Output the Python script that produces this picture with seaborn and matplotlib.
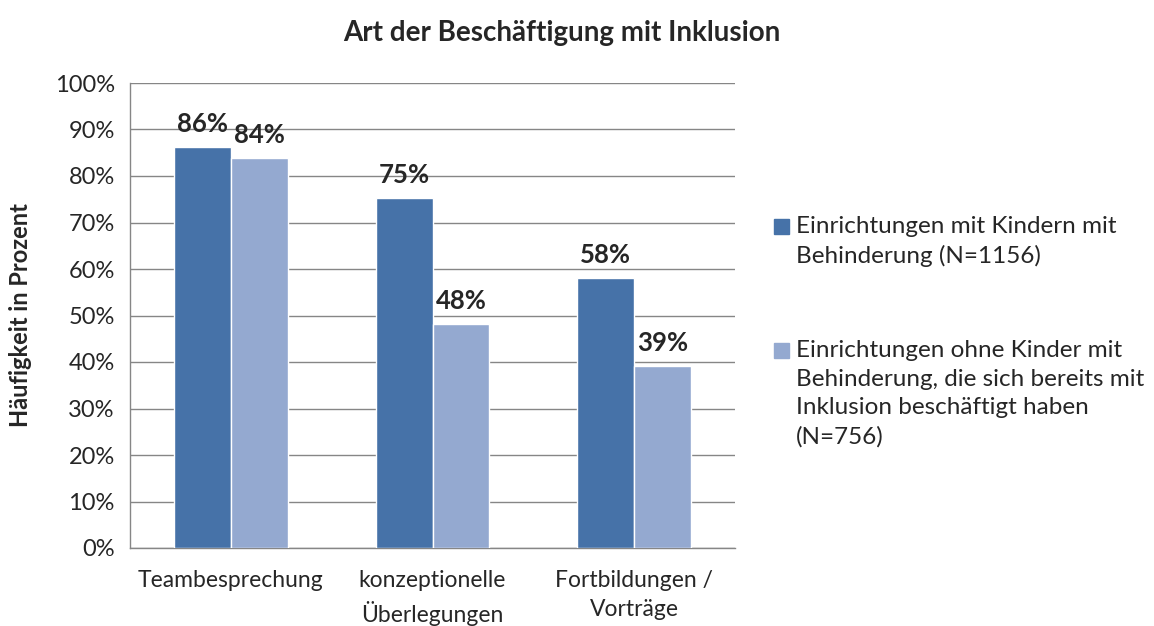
import pandas as pd
import seaborn as sns
import matplotlib.pyplot as plt
from matplotlib.patches import Rectangle
from matplotlib.ticker import PercentFormatter

categories = ["Teambesprechung", "konzeptionelle\nÜberlegungen", "Fortbildungen /\nVorträge"]
series_names = ["Einrichtungen mit Kindern mit\nBehinderung (N=1156)",
                "Einrichtungen ohne Kinder mit\nBehinderung, die sich bereits mit\nInklusion beschäftigt haben\n(N=756)"]
mit_kindern = [86.3, 75.3, 58.0]
ohne_kinder = [83.9, 48.2, 39.2]
colors = ["#4672A8", "#94A9D0"]

sns.set_style("white")
plt.rcParams['font.family'] = ['Lato', 'DejaVu Sans']

df = pd.DataFrame({
    "Kategorie": categories * 2,
    "Gruppe": [series_names[0]] * 3 + [series_names[1]] * 3,
    "Wert": mit_kindern + ohne_kinder,
})

fig = plt.figure(figsize=(11.54, 6.26), dpi=100)
ax = fig.add_axes([130 / 1154, 1 - 548 / 626, 605 / 1154, 465 / 626])

sns.barplot(data=df, x="Kategorie", y="Wert", hue="Gruppe", palette=colors,
            width=0.564, gap=0, saturation=1, legend=False, ax=ax, zorder=3)

for cont in ax.containers:
    ax.bar_label(cont, labels=[f"{v:.0f}%" for v in cont.datavalues],
                 padding=8, fontsize=18.5, fontweight="bold")

ax.set_ylim(0, 100)
ax.set_xlim(-0.5, 2.5)
ax.set_yticks(range(0, 101, 10))
ax.yaxis.set_major_formatter(PercentFormatter(decimals=0))
ax.grid(axis="y", color="#868686", linewidth=1, zorder=0)
ax.set_axisbelow(True)

ax.set_xticks([-0.5, 0.5, 1.5, 2.5], minor=True)
ax.tick_params(axis="x", which="major", length=0, pad=16, labelsize=16.5)
for lbl in ax.get_xticklabels():
    lbl.set_linespacing(1.45)
ax.tick_params(axis="x", which="minor", length=6, width=1, color="#868686", direction="out")
ax.tick_params(axis="y", length=6, width=1, color="#868686", direction="out", pad=5, labelsize=17)
for side in ["top", "right"]:
    ax.spines[side].set_visible(False)
for side in ["left", "bottom"]:
    ax.spines[side].set_color("#868686")
    ax.spines[side].set_linewidth(1)

ax.set_xlabel("")
ax.set_ylabel("Häufigkeit in Prozent", fontsize=17, fontweight="bold", labelpad=16)
fig.text(562 / 1154, 1 - 33 / 626, "Art der Beschäftigung mit Inklusion",
         ha="center", va="center", fontsize=20, fontweight="bold")

# legend drawn by hand so the square sits on the first line
for i, (name, col) in enumerate(zip(series_names, colors)):
    top = [219, 343][i]
    fig.add_artist(Rectangle((774 / 1154, 1 - (top + 15) / 626), 15 / 1154, 15 / 626,
                             transform=fig.transFigure, color=col))
    fig.text(796 / 1154, 1 - (top - 3) / 626, name, ha="left", va="top",
             fontsize=17.5, linespacing=1.45)

fig.savefig("out.png", dpi=100)
